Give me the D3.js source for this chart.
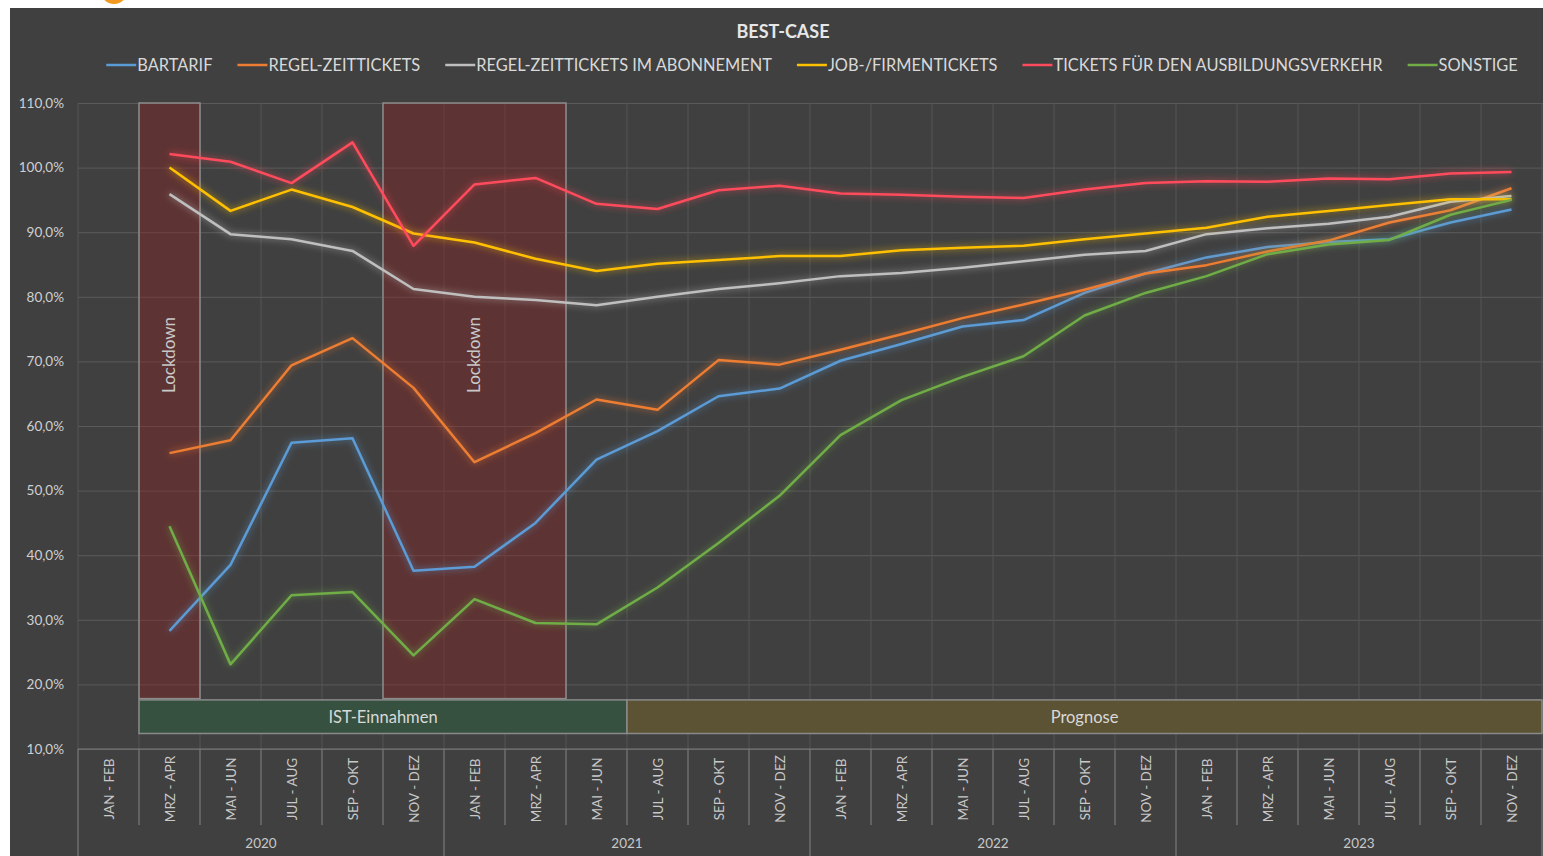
<!DOCTYPE html>
<html lang="de">
<head>
    <meta charset="UTF-8">
    <title>Best-Case</title>
    <script src="https://cdnjs.cloudflare.com/ajax/libs/d3/7.8.5/d3.min.js"></script>
    <style>
        body {
            margin: 0;
            background: #fff;
            overflow: hidden;
        }

        svg text {
            font-family: Lato, "Open Sans", sans-serif;
        }
    </style>
</head>
<body>
<svg id="chart" width="1543" height="856"></svg>

<script>
    // data
    let years = ["2020", "2021", "2022", "2023"];
    let periods = ["JAN - FEB", "MRZ - APR", "MAI - JUN", "JUL - AUG", "SEP - OKT", "NOV - DEZ"];

    let bartarif = [null, 28.3, 38.5, 57.4, 58.1, 37.6, 38.2, 45.0, 54.8, 59.2, 64.6, 65.8,
        70.1, 72.7, 75.4, 76.4, 80.6, 83.6, 86.1, 87.7, 88.5, 88.9, 91.5, 93.5];
    let regelZeit = [null, 55.8, 57.8, 69.4, 73.6, 65.9, 54.4, 58.9, 64.1, 62.5, 70.2, 69.5,
        71.8, 74.2, 76.7, 78.8, 81.1, 83.6, 84.9, 87.0, 88.7, 91.5, 93.4, 96.8];
    let regelAbo = [null, 95.9, 89.7, 88.9, 87.1, 81.2, 80.0, 79.5, 78.7, 80.0, 81.2, 82.1,
        83.2, 83.7, 84.5, 85.5, 86.5, 87.1, 89.7, 90.6, 91.3, 92.4, 94.7, 95.6];
    let jobTickets = [null, 100.0, 93.3, 96.6, 93.9, 89.8, 88.4, 85.9, 84.0, 85.1, 85.7, 86.3,
        86.3, 87.2, 87.6, 87.9, 88.9, 89.8, 90.7, 92.4, 93.3, 94.2, 95.1, 95.1];
    let ausbildung = [null, 102.1, 100.9, 97.6, 103.9, 87.9, 97.4, 98.4, 94.4, 93.6, 96.5, 97.2,
        96.0, 95.8, 95.5, 95.3, 96.6, 97.6, 97.9, 97.8, 98.3, 98.2, 99.1, 99.3];
    let sonstige = [null, 44.5, 23.1, 33.8, 34.3, 24.5, 33.2, 29.5, 29.3, 35.0, 41.9, 49.2,
        58.6, 64.0, 67.6, 70.8, 77.1, 80.6, 83.2, 86.6, 88.1, 88.8, 92.7, 95.0];

    let seriesNames = ["BARTARIF", "REGEL-ZEITTICKETS", "REGEL-ZEITTICKETS IM ABONNEMENT",
        "JOB-/FIRMENTICKETS", "TICKETS FÜR DEN AUSBILDUNGSVERKEHR", "SONSTIGE"];
    let seriesValues = [bartarif, regelZeit, regelAbo, jobTickets, ausbildung, sonstige];
    let seriesColors = ["#5b9bd5", "#ed7d31", "#bfbfbf", "#ffc000", "#ff4b5c", "#70ad47"];

    // lockdown periods, as category indexes (first, last)
    let lockdownFirst = [1, 5];
    let lockdownLast = [1, 7];

    let phaseLabels = ["IST-Einnahmen", "Prognose"];
    let phaseFirst = [1, 9];
    let phaseLast = [8, 23];

    let yTicks = [10, 20, 30, 40, 50, 60, 70, 80, 90, 100, 110];

    // category keys
    let categories = [];
    years.forEach(function (yr) {
        periods.forEach(function (p) {
            categories.push(yr + "|" + p);
        });
    });

    let svg = d3.select("#chart");
    let plotLeft = 78, plotRight = 1542, plotTop = 103, plotBottom = 749;

    let x = d3.scaleBand().domain(d3.range(categories.length)).range([plotLeft, plotRight]).paddingInner(0).paddingOuter(0);
    let y = d3.scaleLinear().domain([10, 110]).range([plotBottom, plotTop]);
    let bw = x.bandwidth();

    let de = d3.formatLocale({decimal: ",", thousands: ".", grouping: [3], currency: ["", " €"]});
    let fmt = de.format(".1f");

    let defs = svg.append("defs");
    let glow = defs.append("filter").attr("id", "glow")
        .attr("x", "-5%").attr("y", "-20%").attr("width", "110%").attr("height", "140%");
    glow.append("feGaussianBlur").attr("in", "SourceGraphic").attr("stdDeviation", 3.5).attr("result", "blur");
    glow.append("feComponentTransfer").attr("in", "blur").attr("result", "soft")
        .append("feFuncA").attr("type", "linear").attr("slope", 0.75);
    let merge = glow.append("feMerge");
    merge.append("feMergeNode").attr("in", "soft");
    merge.append("feMergeNode").attr("in", "SourceGraphic");

    // background
    svg.append("rect").attr("x", 10).attr("y", 8).attr("width", 1533).attr("height", 848).attr("fill", "#404040");
    svg.append("circle").attr("cx", 114).attr("cy", -9).attr("r", 13).attr("fill", "#f39a1e");

    // title
    svg.append("text").attr("x", 783).attr("y", 38).attr("text-anchor", "middle")
        .attr("font-size", 18).attr("font-weight", "bold").attr("fill", "#e6e6e6").text("BEST-CASE");

    // legend
    let legend = svg.append("g");
    let lx = 0;
    seriesNames.forEach(function (name, i) {
        let g = legend.append("g");
        g.append("line").attr("x1", 0).attr("x2", 30).attr("y1", 0).attr("y2", 0)
            .attr("stroke", seriesColors[i]).attr("stroke-width", 2.5);
        let t = g.append("text").attr("x", 31).attr("y", 6).attr("font-size", 16.4)
            .attr("fill", "#d9d9d9").text(name);
        let w = 31 + t.node().getComputedTextLength();
        g.attr("transform", "translate(" + lx + ",0)");
        lx += w + 25;
    });
    let totalW = lx - 25;
    legend.attr("transform", "translate(" + (812 - totalW / 2) + ",65)");

    // horizontal grid + y labels
    let yAxis = d3.axisLeft(y).tickValues(yTicks).tickSize(-(plotRight - plotLeft + 1)).tickFormat(function (d) {
        return fmt(d) + "%";
    });
    let yg = svg.append("g").attr("transform", "translate(" + plotLeft + ",0)").call(yAxis);
    yg.select(".domain").remove();
    yg.selectAll(".tick line").attr("stroke", "#5a5a5a").attr("stroke-width", 1);
    yg.selectAll(".tick text").attr("x", -14).attr("font-size", 13.5).attr("fill", "#d0d0d0")
        .attr("font-family", "Lato, sans-serif");

    // vertical grid at category boundaries
    let bounds = d3.range(categories.length + 1);
    svg.append("g").selectAll("line").data(bounds).enter().append("line")
        .attr("x1", function (d) { return plotLeft + d * bw; })
        .attr("x2", function (d) { return plotLeft + d * bw; })
        .attr("y1", plotTop).attr("y2", plotBottom)
        .attr("stroke", "#555").attr("stroke-width", 1);

    // lockdown boxes
    let lock = svg.append("g");
    lockdownFirst.forEach(function (f, i) {
        let x0 = x(f), x1 = x(lockdownLast[i]) + bw;
        lock.append("rect").attr("x", x0).attr("y", y(110)).attr("width", x1 - x0).attr("height", y(17.8) - y(110))
            .attr("fill", "#8b2020").attr("fill-opacity", 0.4).attr("stroke", "#8c8c8c").attr("stroke-width", 1.5);
        let cx = (x0 + x1) / 2;
        lock.append("text").attr("transform", "translate(" + (cx + 5) + "," + y(71.0) + ") rotate(-90)")
            .attr("text-anchor", "middle").attr("font-size", 17).attr("fill", "#c8c8c8").text("Lockdown");
    });

    // phase bands
    let phaseFill = ["#365140", "#5c5234"];
    phaseFirst.forEach(function (f, i) {
        let x0 = x(f), x1 = x(phaseLast[i]) + bw;
        svg.append("rect").attr("x", x0).attr("y", y(17.6)).attr("width", x1 - x0).attr("height", y(12.4) - y(17.6))
            .attr("fill", phaseFill[i]).attr("stroke", "#8a8a8a").attr("stroke-width", 1.5);
        svg.append("text").attr("x", (x0 + x1) / 2).attr("y", (y(17.6) + y(12.4)) / 2 + 6)
            .attr("text-anchor", "middle").attr("font-size", 16.5).attr("fill", "#d9d9d9").text(phaseLabels[i]);
    });

    // series lines
    let line = d3.line()
        .defined(function (d) { return d !== null; })
        .x(function (d, i) { return x(i) + bw / 2; })
        .y(function (d) { return y(d); });

    seriesValues.forEach(function (vals, i) {
        svg.append("path").datum(vals).attr("d", line)
            .attr("fill", "none").attr("stroke", seriesColors[i]).attr("stroke-width", 2.5)
            .attr("stroke-linejoin", "round").attr("filter", "url(#glow)");
    });

    // category axis
    let axisG = svg.append("g");
    axisG.append("line").attr("x1", plotLeft).attr("x2", plotRight + 1).attr("y1", plotBottom).attr("y2", plotBottom)
        .attr("stroke", "#7a7a7a").attr("stroke-width", 1.2);
    axisG.selectAll(".sep").data(bounds).enter().append("line")
        .attr("x1", function (d) { return plotLeft + d * bw; })
        .attr("x2", function (d) { return plotLeft + d * bw; })
        .attr("y1", plotBottom)
        .attr("y2", function (d) { return d % periods.length === 0 ? 856 : 825; })
        .attr("stroke", "#7a7a7a").attr("stroke-width", 1.2);
    axisG.selectAll(".cat").data(categories).enter().append("text")
        .attr("transform", function (d, i) {
            return "translate(" + (x(i) + bw / 2 + 5) + ",789) rotate(-90)";
        })
        .attr("text-anchor", "middle").attr("font-size", 13.5).attr("fill", "#c8c8c8")
        .text(function (d) { return d.split("|")[1]; });
    axisG.selectAll(".year").data(years).enter().append("text")
        .attr("x", function (d, i) { return x(i * periods.length) + bw * periods.length / 2; })
        .attr("y", 848).attr("text-anchor", "middle").attr("font-size", 13.5).attr("fill", "#c8c8c8")
        .text(function (d) { return d; });
</script>
</body>
</html>
